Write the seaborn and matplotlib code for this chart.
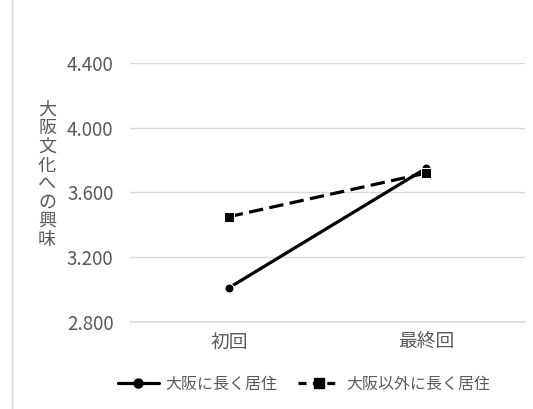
import matplotlib.pyplot as plt
import matplotlib.lines as mlines
import pandas as pd
import seaborn as sns

# data
phases = ["初回", "最終回"]
osaka_long = [3.01, 3.75]
outside_long = [3.45, 3.72]
series_names = ["大阪に長く居住", "大阪以外に長く居住"]
y_ticks = [2.8, 3.2, 3.6, 4.0, 4.4]
y_label = "大阪文化への興味"

sns.set_theme(style="white")
plt.rcParams["font.family"] = ["Noto Sans CJK JP", "DejaVu Sans"]

df = pd.DataFrame({
    "phase": phases * 2,
    "x": [0, 1] * 2,
    "value": osaka_long + outside_long,
    "group": [series_names[0]] * 2 + [series_names[1]] * 2,
})

fig = plt.figure(figsize=(5.33, 4.09), dpi=100)
ax = fig.add_axes([0.244, 0.213, 0.741, 0.633])

sns.lineplot(
    data=df, x="x", y="value", style="group", hue="group",
    palette=["black", "black"],
    dashes={series_names[0]: "", series_names[1]: (4.5, 2)},
    markers={series_names[0]: "o", series_names[1]: "s"},
    markersize=6.5, linewidth=2.3, legend=False, ax=ax,
)

ax.set_xlim(-0.5, 1.5)
ax.set_ylim(2.8, 4.4)
ax.set_yticks(y_ticks)
ax.set_yticklabels([f"{v:.3f}" for v in y_ticks])
ax.set_xticks([0, 1])
ax.set_xticklabels(phases)
ax.yaxis.grid(True, color="#d9d9d9", linewidth=1)
ax.set_axisbelow(True)
for side in ["left", "right", "top"]:
    ax.spines[side].set_visible(False)
ax.spines["bottom"].set_color("#d9d9d9")
ax.tick_params(axis="both", colors="#595959", labelsize=13.5, length=0)
ax.tick_params(axis="y", pad=12)
ax.tick_params(axis="x", pad=7)
ax.set_xlabel("")
ax.set_ylabel("")

fig.text(47 / 533, 1 - 175 / 409, "\n".join(y_label), ha="center", va="center",
         fontsize=13, color="#595959", linespacing=1.05)

# chart border on the left
fig.add_artist(mlines.Line2D([12 / 533, 12 / 533], [0, 1], color="#d9d9d9",
                             linewidth=1, transform=fig.transFigure))

h1 = mlines.Line2D([], [], color="black", linewidth=2.3, marker="o", markersize=6.5)
h2 = mlines.Line2D([], [], color="black", linewidth=2.3, marker="s", markersize=6.5,
                   dashes=(2.5, 2))
fig.legend([h1, h2], series_names, loc="center", bbox_to_anchor=(0.57, 1 - 384 / 409),
           ncol=2, frameon=False, fontsize=11.5, labelcolor="#595959",
           handlelength=2.6, handletextpad=0.4, columnspacing=1.3)

fig.savefig("out.png", dpi=100)
